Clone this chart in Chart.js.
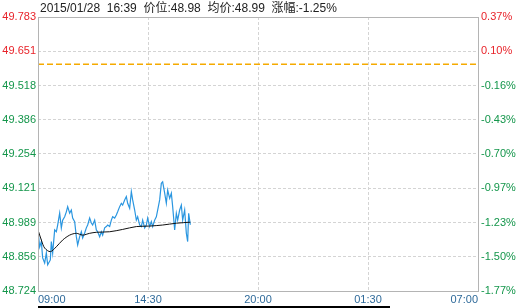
<!DOCTYPE html>
<html>
<head>
<meta charset="utf-8">
<script src="https://cdn.jsdelivr.net/npm/chart.js@4.4.0/dist/chart.umd.min.js"></script>
<style>
  html, body { margin: 0; padding: 0; background: #fff; }
</style>
</head>
<body>
<canvas id="minuteChart" width="517" height="308"></canvas>
<script>
const headerText = '2015/01/28  16:39  价位:48.98  均价:48.99  涨幅:-1.25%';
const xTickLabels = ['09:00', '14:30', '20:00', '01:30', '07:00'];
const xTickMinutes = [0, 330, 660, 990, 1320];
const priceTickLabels = ['48.724', '48.856', '48.989', '49.121', '49.254', '49.386', '49.518', '49.651', '49.783'];
const pctTickLabels = ['-1.77%', '-1.50%', '-1.23%', '-0.97%', '-0.70%', '-0.43%', '-0.16%', '0.10%', '0.37%'];
const prevClose = 49.60;
const priceMin = 48.724;
const priceMax = 49.783;

// minutes after 09:00
const priceMinutes = [0, 5, 10, 14, 20, 25, 29, 37, 40, 44,
  50, 55, 59, 65, 70, 74, 80, 85, 89, 95,
  100, 104, 110, 115, 119, 125, 130, 134, 140, 145,
  149, 155, 160, 164, 170, 175, 179, 185, 190, 194,
  200, 205, 209, 215, 220, 224, 230, 235, 239, 245,
  250, 254, 260, 265, 269, 275, 280, 284, 290, 295,
  299, 305, 310, 314, 320, 325, 329, 335, 340, 344,
  350, 355, 359, 365, 370, 374, 380, 385, 389, 395,
  400, 404, 410, 415, 419, 425, 430, 434, 440, 445,
  449, 452, 457];
const prices = [48.960, 48.894, 48.915, 48.852, 48.832, 48.871, 48.825, 48.844, 48.915, 48.871,
  48.960, 48.953, 48.979, 49.025, 48.968, 48.998, 49.011, 49.030, 49.050, 49.025,
  49.037, 49.006, 48.992, 48.934, 48.902, 48.934, 48.953, 48.929, 48.948, 48.968,
  48.979, 49.006, 48.987, 48.979, 48.998, 48.960, 48.953, 48.934, 48.953, 48.940,
  48.968, 48.973, 48.979, 48.973, 48.998, 49.011, 49.006, 49.018, 49.030, 49.050,
  49.063, 49.056, 49.076, 49.089, 49.063, 49.044, 49.108, 49.076, 49.037, 48.998,
  49.011, 48.979, 48.973, 48.998, 48.968, 48.979, 49.006, 48.973, 48.992, 48.973,
  48.998, 49.011, 49.037, 49.076, 49.140, 49.146, 49.102, 49.063, 49.114, 49.082,
  49.102, 49.050, 48.960, 49.024, 48.998, 49.037, 49.056, 48.998, 49.037, 48.947,
  48.915, 49.024, 48.980];

const avgMinutes = [0, 10, 20, 37, 55, 74, 95, 115, 134, 155, 175, 215, 254, 295, 335, 374, 415, 457];
const avgPrices = [48.960, 48.921, 48.890, 48.876, 48.895, 48.921, 48.940, 48.947, 48.940, 48.947,
  48.951, 48.953, 48.962, 48.973, 48.975, 48.979, 48.986, 48.990];

const upColor = '#e8232a';
const downColor = '#14964b';
const font = { family: '"Liberation Sans", Arial, "Noto Sans CJK SC", sans-serif', size: 11 };

function evenTicks(labels) {
  return scale => {
    const n = labels.length;
    scale.ticks = labels.map((_, i) => ({ value: scale.min + (scale.max - scale.min) * i / (n - 1) }));
  };
}

const decorations = {
  id: 'decorations',
  afterDraw(chart) {
    const { ctx, chartArea: a } = chart;
    ctx.save();
    ctx.strokeStyle = '#b4b4b4';
    ctx.lineWidth = 1;
    ctx.setLineDash([]);
    ctx.strokeRect(a.left + 0.5, a.top + 0.5, a.right - a.left, a.bottom - a.top);
    ctx.fillStyle = '#222';
    ctx.font = '12px "Liberation Sans", Arial, "Noto Sans CJK SC", sans-serif';
    ctx.textBaseline = 'middle';
    ctx.textAlign = 'left';
    ctx.fillText(headerText, a.left + 2, 9);
    // scroll bar under the time axis
    ctx.fillStyle = '#000';
    ctx.fillRect(a.left, 306, 352, 2);
    ctx.restore();
  }
};

const ctx = document.getElementById('minuteChart').getContext('2d');
new Chart(ctx, {
  type: 'line',
  data: {
    datasets: [{
      label: '均价',
      data: avgMinutes.map((m, i) => ({ x: m, y: avgPrices[i] })),
      borderColor: '#111',
      borderWidth: 1,
      pointRadius: 0,
      tension: 0.3,
      yAxisID: 'y'
    }, {
      label: '价位',
      data: priceMinutes.map((m, i) => ({ x: m, y: prices[i] })),
      borderColor: '#2a96e0',
      borderWidth: 1.2,
      pointRadius: 0,
      tension: 0,
      yAxisID: 'y'
    }, {
      label: '昨收',
      data: [{ x: 0, y: prevClose }, { x: 1320, y: prevClose }],
      borderColor: '#f5aa00',
      borderWidth: 1.5,
      borderDash: [6, 3],
      pointRadius: 0,
      yAxisID: 'y'
    }]
  },
  options: {
    responsive: false,
    animation: false,
    devicePixelRatio: 1,
    layout: { padding: { top: 17, left: 0, right: 0, bottom: 0 } },
    plugins: { legend: { display: false }, tooltip: { enabled: false } },
    scales: {
      x: {
        type: 'linear',
        min: 0,
        max: 1320,
        afterBuildTicks: scale => { scale.ticks = xTickMinutes.map(v => ({ value: v })); },
        afterFit: scale => { scale.height = 17; },
        grid: { color: '#d4d4d4', drawTicks: false },
        border: { display: false, dash: [3, 2] },
        ticks: {
          callback: (v, i) => xTickLabels[i],
          color: '#2f6a9a',
          font: font,
          padding: 2,
          align: 'inner',
          maxRotation: 0,
          autoSkip: false
        }
      },
      y: {
        position: 'left',
        min: priceMin,
        max: priceMax,
        afterBuildTicks: evenTicks(priceTickLabels),
        afterFit: scale => { scale.width = 38; },
        grid: { color: '#d4d4d4', drawTicks: false },
        border: { display: false, dash: [3, 2] },
        ticks: {
          callback: (v, i) => priceTickLabels[i],
          color: c => c.index >= 7 ? upColor : downColor,
          font: font,
          padding: 2,
          autoSkip: false
        }
      },
      y1: {
        position: 'right',
        min: (priceMin / prevClose - 1) * 100,
        max: (priceMax / prevClose - 1) * 100,
        afterBuildTicks: evenTicks(pctTickLabels),
        afterFit: scale => { scale.width = 39; },
        grid: { drawOnChartArea: false, drawTicks: false },
        border: { display: false },
        ticks: {
          callback: (v, i) => pctTickLabels[i],
          color: c => c.index >= 7 ? upColor : downColor,
          font: font,
          padding: 3,
          autoSkip: false
        }
      }
    }
  },
  plugins: [decorations]
});
</script>
</body>
</html>
